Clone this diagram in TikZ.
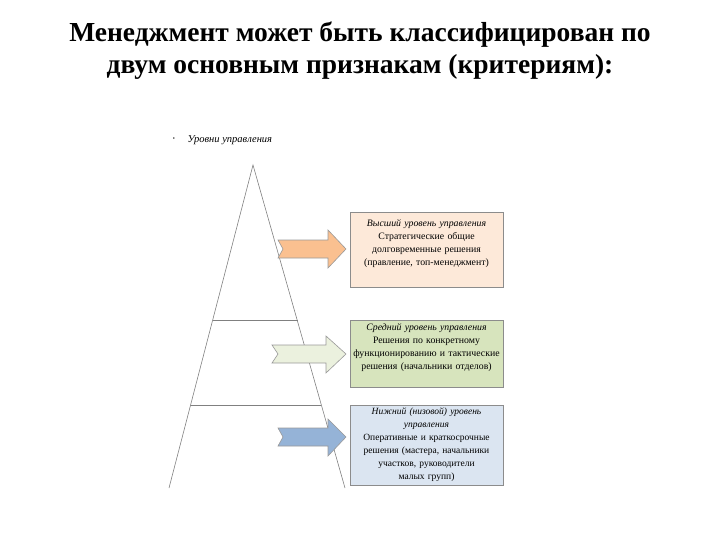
\documentclass[tikz,border=0pt]{standalone}
\usepackage{fontspec}
\setmainfont{Liberation Serif}
\begin{document}
\begin{tikzpicture}[x=1pt,y=-1pt,
  box/.style={draw=black!45,line width=0.8pt},
  txt/.style={align=center,inner sep=0pt,font=\fontsize{9.8}{13}\selectfont,anchor=north,text width=150pt},
  arr/.style={draw=black!40,line width=0.6pt}]
\useasboundingbox (0,0) rectangle (720,540);
\definecolor{peach}{HTML}{FDE9D9}
\definecolor{olv}{HTML}{D7E4BD}
\definecolor{lblue}{HTML}{DBE5F1}
\definecolor{aor}{HTML}{FAC090}
\definecolor{agr}{HTML}{EBF1DE}
\definecolor{abl}{HTML}{95B3D7}
\node[font=\bfseries\fontsize{27.5}{32}\selectfont,align=center] (title) at (360,51) {Менеджмент может быть классифицирован по\\двум основным признакам (критериям):};
\node[font=\itshape\fontsize{10.5}{12}\selectfont,anchor=west] (lab) at (184,140) {Уровни управления};
\node[font=\fontsize{6}{6}\selectfont] (bul) at (174,139) {•};
\coordinate (apex) at (253,165);
\coordinate (bl) at (169,488);
\coordinate (br) at (345,488);
\draw[black!50,line width=0.6pt] (bl) -- (apex) -- (br);
\draw[black!50,line width=0.6pt] (213,320) -- (298,320);
\draw[black!50,line width=0.6pt] (191,405) -- (321,405);
% boxes
\draw[box,fill=peach] (350,212) rectangle (503,287);
\node[txt] (b1) at (426.5,219) {\textit{Высший уровень управления}\\Стратегические общие долговременные решения (правление, топ-менеджмент)};
\draw[box,fill=olv] (350,320) rectangle (503,387);
\node[txt] (b2) at (426.5,323) {\textit{Средний уровень управления}\\Решения по конкретному функционированию и тактические решения (начальники отделов)};
\draw[box,fill=lblue] (350,405) rectangle (503,485);
\node[txt,font=\fontsize{9.5}{13}\selectfont] (b3) at (426.5,408) {\textit{Нижний (низовой) уровень}\\\textit{управления}\\Оперативные и краткосрочные\\решения (мастера, начальники\\участков, руководители малых групп)};
% arrows
\draw[arr,fill=aor] (278,240) -- (328,240) -- (328,230) -- (346,249) -- (328,268) -- (328,258) -- (278,258) -- (283,249) -- cycle;
\draw[arr,fill=agr] (272,345) -- (326,345) -- (326,336) -- (346,354) -- (326,373) -- (326,363) -- (272,363) -- (278,354) -- cycle;
\draw[arr,fill=abl] (278,428) -- (328,428) -- (328,419) -- (346,437) -- (328,456) -- (328,446) -- (278,446) -- (283,437) -- cycle;
\end{tikzpicture}
\end{document}
